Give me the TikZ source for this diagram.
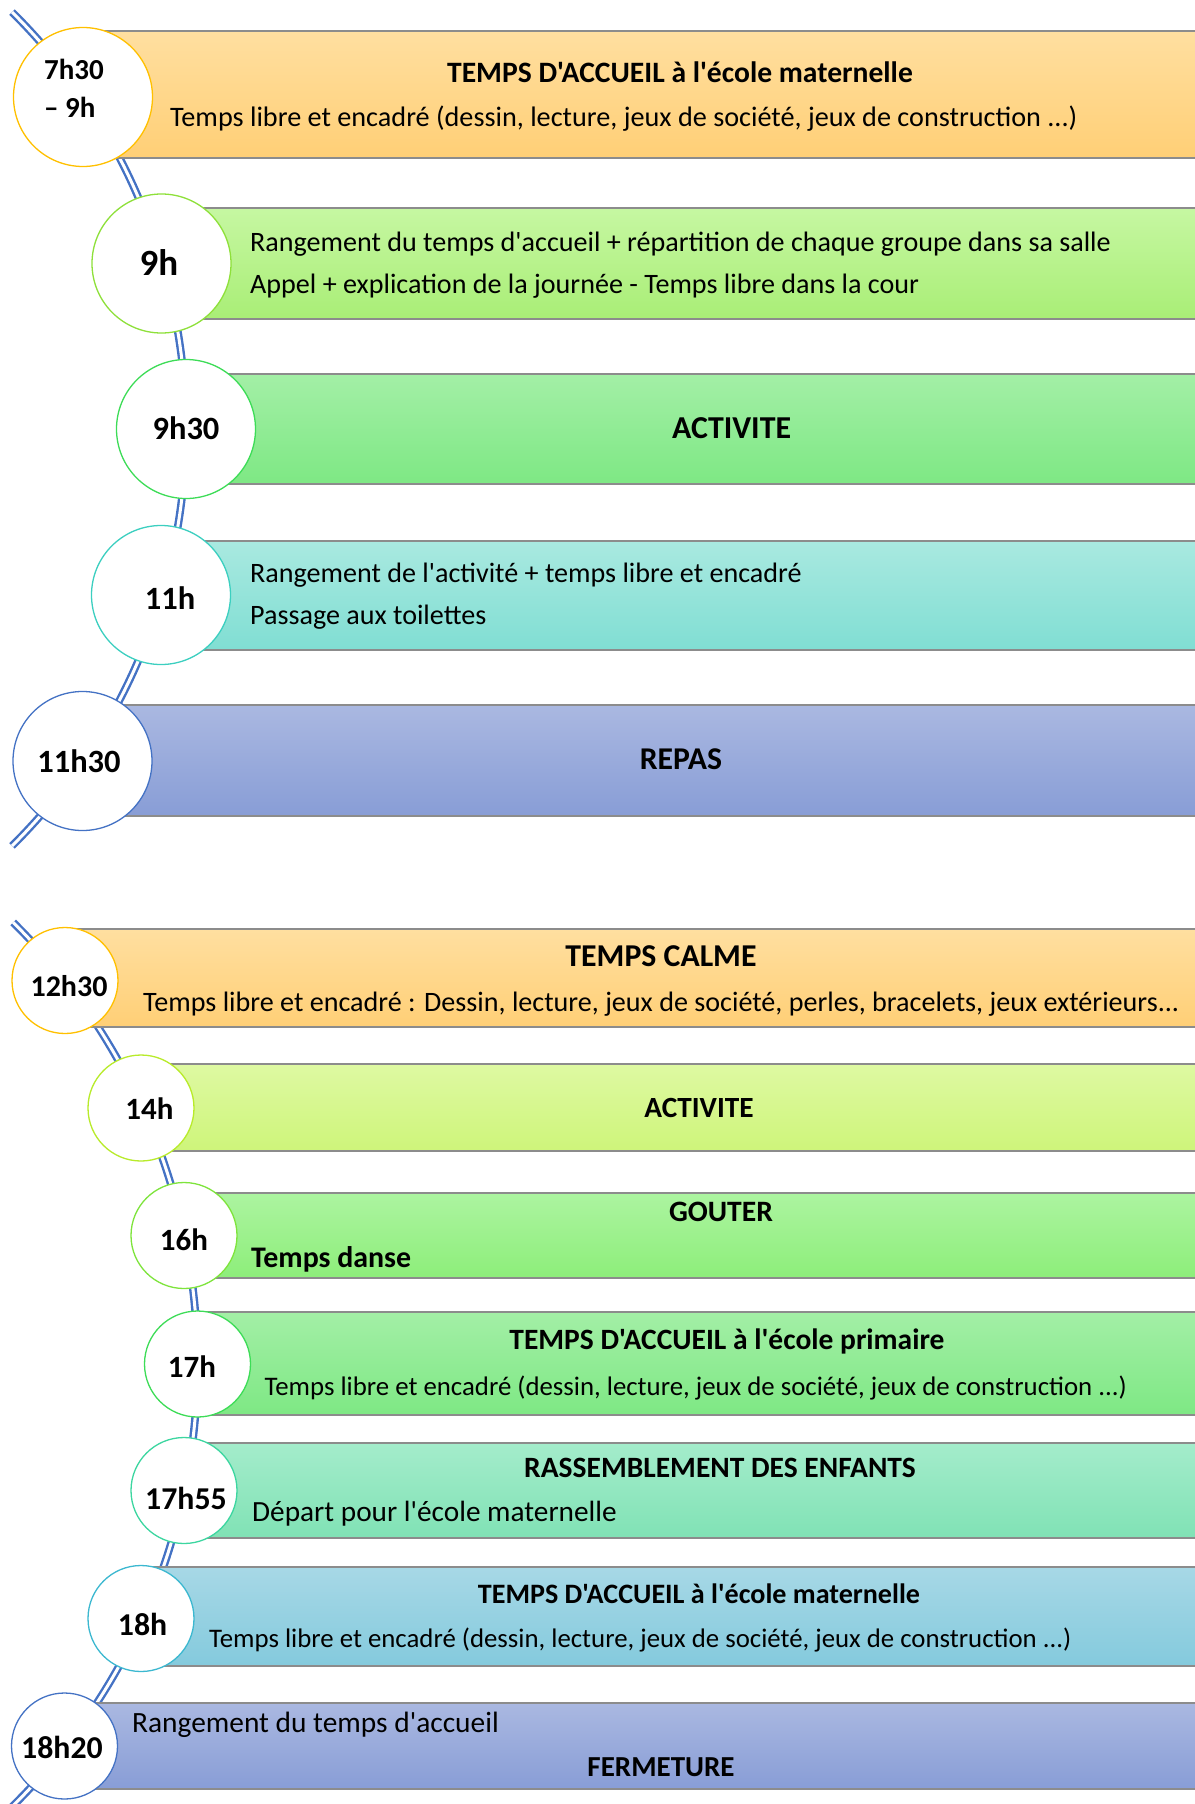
\documentclass[tikz,border=0pt]{standalone}
\usepackage{fontspec}
\newfontfamily\carlito{Carlito}
\definecolor{spineblue}{HTML}{4472C4}
\definecolor{bargrey}{HTML}{8C8C8C}
% bar shadings (top / bottom)
\definecolor{orgA}{HTML}{FFDFA0}\definecolor{orgB}{HTML}{FFCF76}
\definecolor{limA}{HTML}{C6F7A2}\definecolor{limB}{HTML}{A9EE76}
\definecolor{grnA}{HTML}{A3EFA6}\definecolor{grnB}{HTML}{7EE884}
\definecolor{tealA}{HTML}{A9E9E0}\definecolor{tealB}{HTML}{80DED3}
\definecolor{bluA}{HTML}{AAB8E1}\definecolor{bluB}{HTML}{889DD6}
\definecolor{yelA}{HTML}{DEF9A2}\definecolor{yelB}{HTML}{CEF57A}
\definecolor{gouA}{HTML}{ACF4A0}\definecolor{gouB}{HTML}{8DEE7A}
\definecolor{mntA}{HTML}{A4ECCB}\definecolor{mntB}{HTML}{80E2B5}
\definecolor{skyA}{HTML}{A7D8E6}\definecolor{skyB}{HTML}{84CADD}
% circle outlines
\definecolor{orgC}{HTML}{FFC000}
\definecolor{limC}{HTML}{8EE03A}
\definecolor{grnC}{HTML}{3DDC57}
\definecolor{tealC}{HTML}{3CCFC0}
\definecolor{yelC}{HTML}{B8EB2A}
\definecolor{gouC}{HTML}{7EE43C}
\definecolor{mntC}{HTML}{3CD6A0}
\definecolor{skyC}{HTML}{3CB8D0}

\begin{document}
\begin{tikzpicture}[x=1pt,y=-1pt,
	spine/.style={draw=spineblue, line width=2.4pt, double=white, double distance=3pt},
	barbox/.style={draw=bargrey, line width=1.4pt},
	bigdot/.style={circle, fill=white, line width=1.3pt, minimum size=139pt, inner sep=0pt},
	smalldot/.style={circle, fill=white, line width=1.3pt, minimum size=106pt, inner sep=0pt},
	hourtxt/.style={font=\carlito\bfseries\fontsize{#1}{38}\selectfont},
	ttl/.style={font=\carlito\bfseries\fontsize{#1}{#1}\selectfont},
	txt/.style={font=\carlito\fontsize{#1}{#1}\selectfont, anchor=west, inner sep=0pt, yshift=-2.5pt}]
	\useasboundingbox (0,0) rectangle (1194,1804);
	% morning spine
	\coordinate (spineup) at (-400.6,429);
	\draw[spine] (spineup) ++(-45.3:586.6) arc[start angle=-45.3, end angle=45.3, radius=586.6];
	% afternoon spine
	\coordinate (spinelow) at (-423.7,1364);
	\draw[spine] (spinelow) ++(-45.3:621.2) arc[start angle=-45.3, end angle=50, radius=621.2];
	% morning bars
	\foreach \cx/\top/\bot/\ca/\cb in {83/31/158/orgA/orgB, 161/208/319/limA/limB,
		186/374/484/grnA/grnB, 161/541/650/tealA/tealB, 83/705/816/bluA/bluB}
	{
		\path[barbox, top color=\ca, bottom color=\cb] (\cx,\top) rectangle (1200,\bot);
	}
	% afternoon bars
	\foreach \cx/\top/\bot/\ca/\cb in {65/929/1027/orgA/orgB, 141/1064/1151/yelA/yelB,
		184/1193/1278/gouA/gouB, 197/1312/1415/grnA/grnB, 184/1443/1538/mntA/mntB,
		141/1567/1666/skyA/skyB, 64/1703/1789/bluA/bluB}
	{
		\path[barbox, top color=\ca, bottom color=\cb] (\cx,\top) rectangle (1200,\bot);
	}
	% hour circles
	\foreach \n/\x/\y/\c in {a/83/97/orgC, b/161.5/263.5/limC, c/186/429/grnC,
		d/161/595/tealC, e/82.5/761/spineblue}
	{
		\node[bigdot, draw=\c] (dot\n) at (\x,\y) {};
	}
	\foreach \n/\x/\y/\c in {f/65/980.5/orgC, g/141/1108/yelC, h/184/1235.5/gouC,
		i/197.5/1364/grnC, j/184/1490.5/mntC, k/141/1618.5/skyC, l/64.5/1746/spineblue}
	{
		\node[smalldot, draw=\c] (dot\n) at (\x,\y) {};
	}
	% hours
	\node[hourtxt=29, align=left] (hra) at (74,88) {7h30\\– 9h};
	\node[hourtxt=37] (hrb) at (159,263) {9h};
	\node[hourtxt=32.5] (hrc) at (186,428) {9h30};
	\node[hourtxt=32.5] (hrd) at (170,598) {11h};
	\node[hourtxt=32.5] (hre) at (79,761.5) {11h30};
	\node[hourtxt=30] (hrf) at (69,986) {12h30};
	\node[hourtxt=31] (hrg) at (149.5,1109) {14h};
	\node[hourtxt=31] (hrh) at (184,1240) {16h};
	\node[hourtxt=31] (hri) at (192,1366.6) {17h};
	\node[hourtxt=31.8] (hrj) at (186,1498) {17h55};
	\node[hourtxt=31.8] (hrk) at (142.6,1624) {18h};
	\node[hourtxt=31.8] (hrl) at (62,1747) {18h20};
	% morning texts
	\node[ttl=29.6] (ttla) at (680,72.5) {TEMPS D'ACCUEIL à l'école maternelle};
	\node[txt=28.2] (txta) at (170,116) {Temps libre et encadré (dessin, lecture, jeux de société, jeux de construction ...)};
	\node[txt=28.1] (txtb) at (250,241.5) {Rangement du temps d'accueil + répartition de chaque groupe dans sa salle};
	\node[txt=28.1] (txtbb) at (250,284) {Appel + explication de la journée - Temps libre dans la cour};
	\node[ttl=31.9] (ttlc) at (731.6,428) {ACTIVITE};
	\node[txt=28.1] (txtd) at (250,573) {Rangement de l'activité + temps libre et encadré};
	\node[txt=28.1] (txtdd) at (250,615) {Passage aux toilettes};
	\node[ttl=31.7] (ttle) at (681,759) {REPAS};
	% afternoon texts
	\node[ttl=31.8] (ttlf) at (661,956) {TEMPS CALME};
	\node[txt=28.1] (txtf) at (143,1002) {Temps libre et encadré : Dessin, lecture, jeux de société, perles, bracelets, jeux extérieurs...};
	\node[ttl=29.3] (ttlg) at (699,1108) {ACTIVITE};
	\node[ttl=29.6] (ttlh) at (721,1212) {GOUTER};
	\node[ttl=29.9, anchor=west, inner sep=0pt, yshift=-2.5pt] (ttlhh) at (251,1257) {Temps danse};
	\node[ttl=29.5] (ttli) at (727,1341) {TEMPS D'ACCUEIL à l'école primaire};
	\node[txt=26.8] (txti) at (264.5,1385) {Temps libre et encadré (dessin, lecture, jeux de société, jeux de construction ...)};
	\node[ttl=29.5] (ttlj) at (720,1468) {RASSEMBLEMENT DES ENFANTS};
	\node[txt=29.3] (txtj) at (252,1511.5) {Départ pour l'école maternelle};
	\node[ttl=28.1] (ttlk) at (699,1594) {TEMPS D'ACCUEIL à l'école maternelle};
	\node[txt=26.8] (txtk) at (209,1637) {Temps libre et encadré (dessin, lecture, jeux de société, jeux de construction ...)};
	\node[txt=29.4] (txtl) at (132,1722) {Rangement du temps d'accueil};
	\node[ttl=29] (ttll) at (661,1767) {FERMETURE};
\end{tikzpicture}
\end{document}
